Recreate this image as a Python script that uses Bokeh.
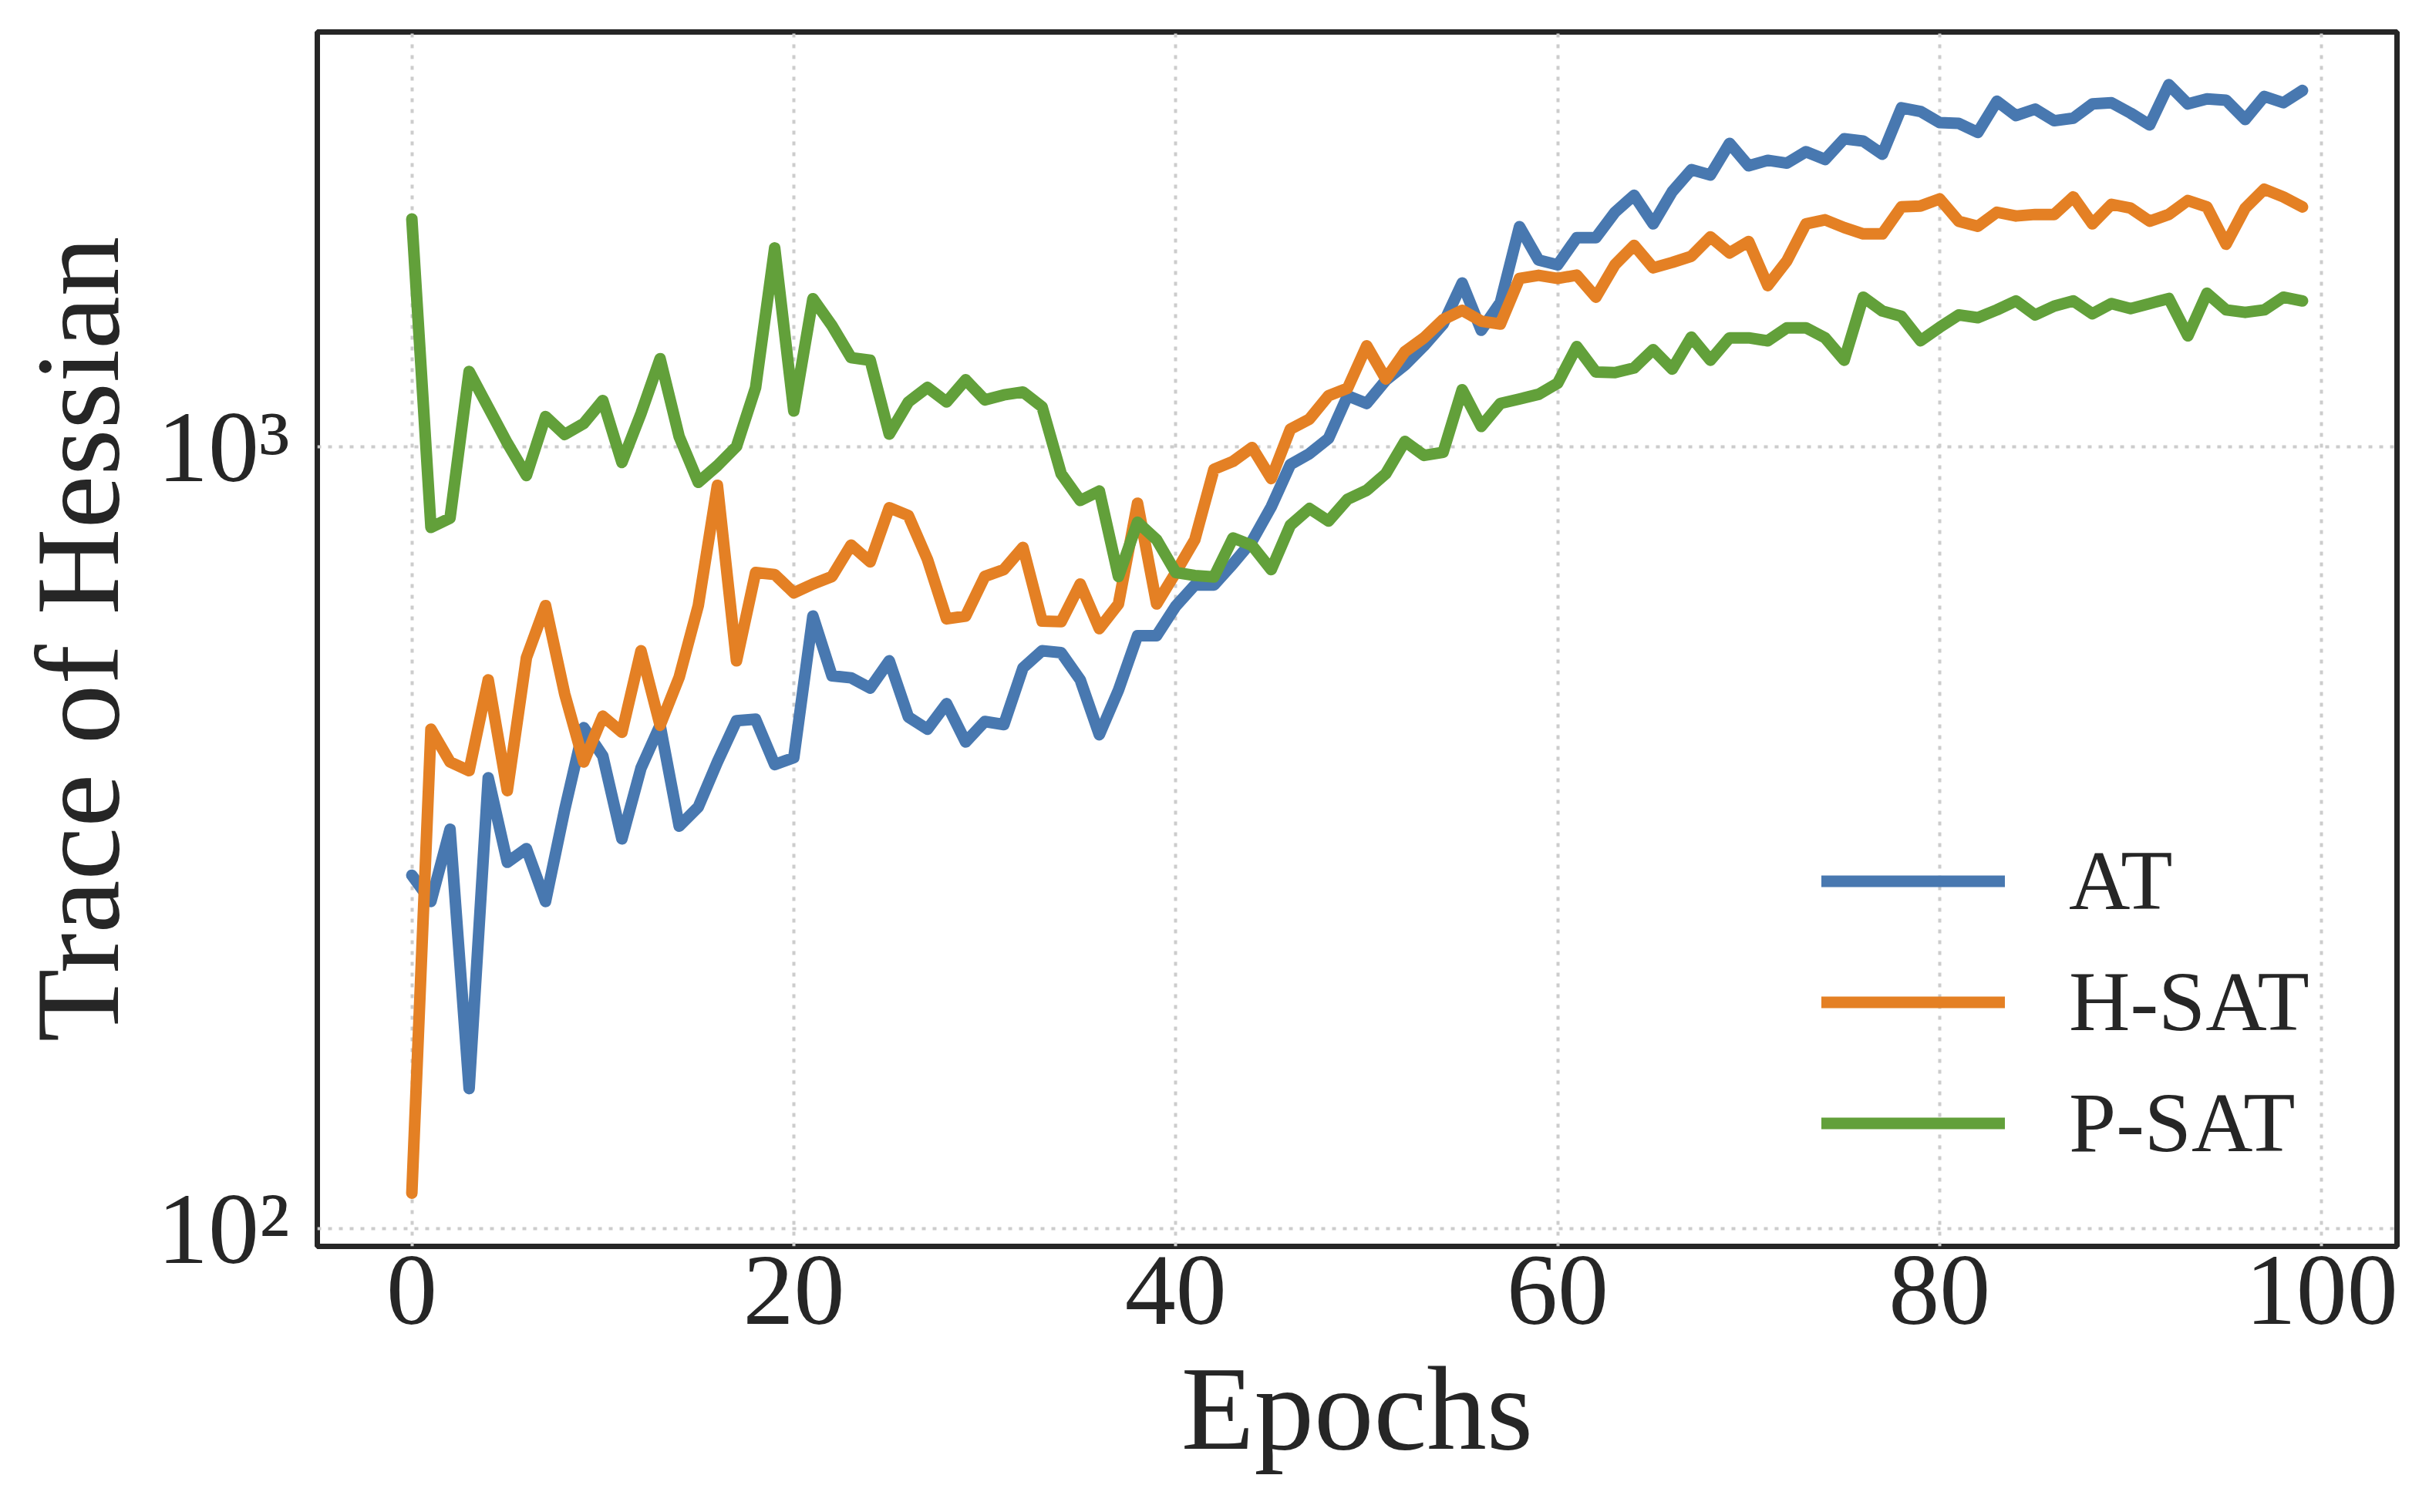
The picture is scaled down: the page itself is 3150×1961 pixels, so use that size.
from bokeh.plotting import figure
from bokeh.models import Range1d, FixedTicker, Legend, LegendItem
from bokeh.embed import file_html
from bokeh.resources import INLINE

epochs = list(range(100))

at = [283, 262, 324, 151, 377, 294, 306, 262, 343, 437, 402, 315, 388, 440, 327, 346, 395, 446, 448, 392,
      400, 607, 509, 506, 491, 532, 451, 435, 469, 419, 445, 441, 521, 548, 545, 503, 428, 488, 573, 573,
      625, 665, 665, 708, 757, 837, 948, 979, 1024, 1161, 1135, 1215, 1271, 1345, 1434, 1618, 1408, 1528, 1910, 1731,
      1707, 1849, 1849, 1993, 2095, 1926, 2118, 2259, 2224, 2441, 2285, 2322, 2303, 2382, 2328, 2474, 2457, 2364, 2710, 2681,
      2595, 2589, 2521, 2763, 2649, 2700, 2609, 2629, 2741, 2751, 2668, 2577, 2901, 2741, 2782, 2772, 2618, 2803, 2751, 2852]

hsat = [111, 435, 395, 385, 503, 363, 537, 626, 483, 395, 452, 431, 548, 440, 507, 626, 892, 532, 690, 686,
        650, 667, 682, 748, 712, 835, 816, 717, 602, 607, 682, 696, 743, 598, 597, 667, 585, 629, 846, 629,
        690, 760, 935, 957, 997, 910, 1052, 1084, 1161, 1187, 1345, 1220, 1322, 1377, 1453, 1493, 1446, 1434, 1640, 1655,
        1640, 1656, 1552, 1708, 1808, 1692, 1719, 1751, 1853, 1768, 1828, 1606, 1727, 1926, 1949, 1905, 1870, 1870, 2025, 2030,
        2073, 1941, 1912, 1993, 1971, 1980, 1980, 2085, 1926, 2040, 2017, 1941, 1980, 2063, 2024, 1814, 2017, 2133, 2085, 2024]

psat = [1954, 788, 810, 1247, 1122, 1010, 918, 1092, 1036, 1070, 1145, 954, 1102, 1295, 1029, 900, 945, 1000, 1189, 1794,
        1110, 1545, 1427, 1299, 1289, 1037, 1140, 1190, 1140, 1217, 1147, 1164, 1174, 1124, 923, 853, 877, 682, 800, 760,
        690, 684, 681, 764, 747, 696, 793, 833, 803, 856, 879, 923, 1015, 974, 983, 1182, 1061, 1135, 1150, 1166,
        1205, 1342, 1245, 1243, 1260, 1330, 1256, 1380, 1289, 1377, 1377, 1365, 1418, 1418, 1377, 1289, 1552, 1490, 1467, 1365,
        1420, 1473, 1461, 1495, 1535, 1473, 1512, 1535, 1478, 1523, 1501, 1523, 1546, 1385, 1570, 1495, 1484, 1495, 1552, 1535]

series_names = ["AT", "H-SAT", "P-SAT"]
series_values = [at, hsat, psat]
colors = ["#4878b0", "#e48024", "#62a03a"]

x_ticks = [0, 20, 40, 60, 80, 100]
y_ticks = [100, 1000]
y_tick_labels = {100: "10²", 1000: "10³"}
x_label = "Epochs"
y_label = "Trace of Hessian"

FONT = "Liberation Serif"
TXT = "#262626"

p = figure(width=3134, height=1945, y_axis_type="log",
           x_range=Range1d(-4.95, 103.95), y_range=Range1d(94.9, 3388),
           output_backend="svg", toolbar_location=None,
           min_border_left=411, min_border_right=26, min_border_top=41, min_border_bottom=329)

p.background_fill_color = "white"
p.border_fill_color = "white"
p.outline_line_color = TXT
p.outline_line_width = 7

for ax in (p.xaxis, p.yaxis):
    ax.axis_line_color = None
    ax.major_tick_line_color = None
    ax.minor_tick_line_color = None
    ax.major_label_text_font = FONT
    ax.major_label_text_font_size = "132px"
    ax.major_label_text_color = TXT
    ax.axis_label_text_font = FONT
    ax.axis_label_text_font_size = "155px"
    ax.axis_label_text_font_style = "normal"
    ax.axis_label_text_color = TXT

p.xaxis.ticker = FixedTicker(ticks=x_ticks)
p.yaxis.ticker = FixedTicker(ticks=y_ticks)
p.yaxis.major_label_overrides = y_tick_labels
p.xaxis.axis_label = x_label
p.yaxis.axis_label = y_label
p.xaxis.major_label_standoff = 8
p.xaxis.axis_label_standoff = 21
p.xaxis.axis_label_text_line_height = 1.0
p.yaxis.major_label_standoff = 30
p.yaxis.axis_label_standoff = 14

for g in (p.xgrid, p.ygrid):
    g.grid_line_color = "#cccccc"
    g.grid_line_width = 4
    g.grid_line_dash = "5 9"
p.ygrid.minor_grid_line_color = None

items = []
for name, vals, col in zip(series_names, series_values, colors):
    r = p.line(epochs, vals, line_color=col, line_width=15, line_cap="round", line_join="round")
    items.append(LegendItem(label=name, renderers=[r]))

legend = Legend(items=items, location=(1951, 81), glyph_width=238, glyph_height=157,
                label_standoff=83, spacing=0, padding=0, margin=0,
                border_line_color=None, background_fill_alpha=0,
                label_text_font=FONT, label_text_font_size="110px", label_text_color=TXT)
p.add_layout(legend)

open("out.html", "w").write(file_html(p, INLINE))
